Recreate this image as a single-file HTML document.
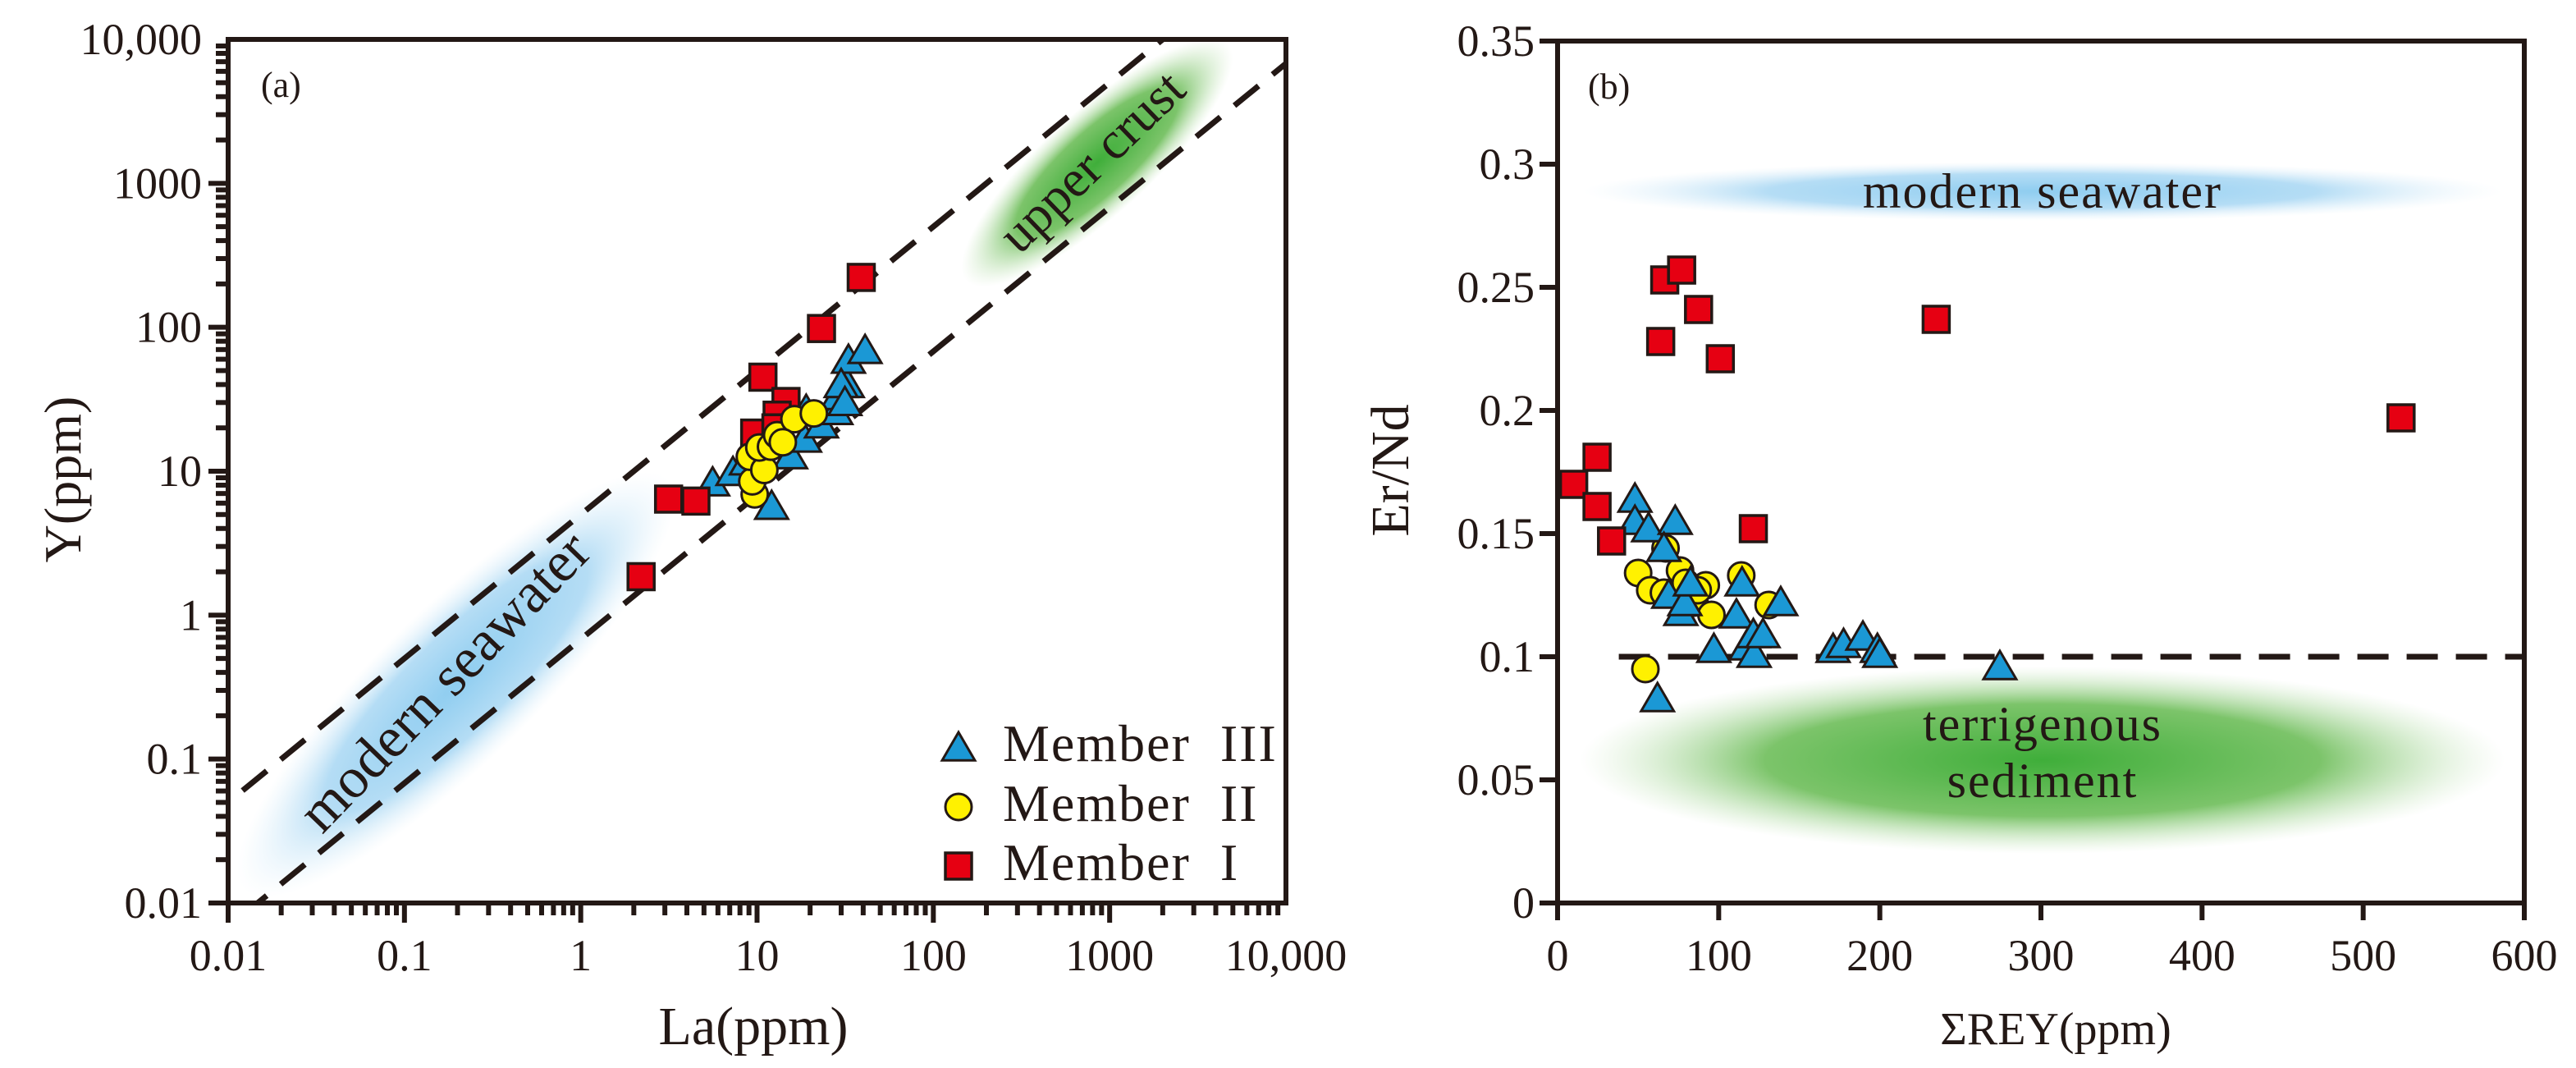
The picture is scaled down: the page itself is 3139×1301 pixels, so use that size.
<!DOCTYPE html>
<html><head><meta charset="utf-8">
<style>
html,body{margin:0;padding:0;background:#fff;}
svg{display:block;}
text{font-family:"Liberation Serif",serif;fill:#231815;}
</style></head>
<body>
<svg id="fig" width="3139" height="1301" viewBox="0 0 3139 1301" xmlns="http://www.w3.org/2000/svg">
<defs>
<radialGradient id="gBlue"><stop offset="0" stop-color="#8fcdf0"/><stop offset="0.6" stop-color="#b5ddf5"/><stop offset="1" stop-color="#e3f2fb" stop-opacity="0"/></radialGradient>
<radialGradient id="gGreen"><stop offset="0" stop-color="#3fae3a"/><stop offset="0.6" stop-color="#7cc46a"/><stop offset="1" stop-color="#c8e6bd" stop-opacity="0"/></radialGradient>
<clipPath id="clipA"><rect x="278" y="48" width="1289" height="1052"/></clipPath>
</defs>
<g id="chartA"></g>
<g id="chartB"></g>
</svg>
<script>
// ---------- Chart (a) data ----------
const aM1La = [2.2, 3.15, 4.5, 10.8, 14.6, 13.0, 9.7, 12.8, 23.2, 39];
const aM1Y  = [1.85, 6.4, 6.2, 45, 30.5, 24.5, 18.4, 20, 98, 222];
const aM3La = [5.6, 7.3, 8.7, 12.1, 15.5, 18.6, 19.0, 23.2, 28, 28.6, 32.5, 33, 41, 30, 31.5];
const aM3Y  = [8.3, 9.8, 11.6, 5.7, 12.8, 16.7, 26.5, 21, 26, 33, 40, 59, 69, 40, 30];
const aM2La = [9.7, 9.4, 9.1, 11, 10.3, 12, 13, 16.3, 21, 14];
const aM2Y  = [6.9, 8.5, 12.6, 10.2, 14.6, 14.8, 17.8, 23.0, 25.2, 15.9];
const aTicks = [0.01, 0.1, 1, 10, 100, 1000, 10000];
const aTickLabels = ["0.01", "0.1", "1", "10", "100", "1000", "10,000"];
const aLineFactors = [5.0, 0.68];

// ---------- Chart (b) data ----------
const bM1X = [10, 24.5, 24.5, 33.5, 64, 66.5, 77, 87.5, 101, 121.5, 235, 523.5];
const bM1Y = [0.170, 0.181, 0.161, 0.147, 0.228, 0.253, 0.257, 0.241, 0.221, 0.152, 0.237, 0.197];
const bM3X = [48, 48, 56.5, 73, 66, 69, 76.5, 79, 82.5, 97, 111, 114.5, 117, 121.5, 122, 127.5, 138.5, 171, 177.5, 189.5, 198.5, 200, 274.5, 62];
const bM3Y = [0.164, 0.155, 0.152, 0.155, 0.144, 0.125, 0.118, 0.122, 0.130, 0.103, 0.117, 0.130, 0.104, 0.109, 0.101, 0.109, 0.122, 0.103, 0.105, 0.108, 0.103, 0.101, 0.096, 0.083];
const bM2X = [50, 57.5, 66, 67, 76, 79.5, 85, 92, 87, 95.5, 114, 131, 54.5];
const bM2Y = [0.134, 0.127, 0.126, 0.144, 0.135, 0.130, 0.122, 0.129, 0.127, 0.117, 0.133, 0.121, 0.095];
const bXTicks = [0, 100, 200, 300, 400, 500, 600];
const bYTicks = [0, 0.05, 0.1, 0.15, 0.2, 0.25, 0.3, 0.35];
const bYTickLabels = ["0", "0.05", "0.1", "0.15", "0.2", "0.25", "0.3", "0.35"];

const NS = "http://www.w3.org/2000/svg";
const INK = "#231815";
function mk(parent, tag, attrs) {
  const e = document.createElementNS(NS, tag);
  for (const k in attrs) e.setAttribute(k, attrs[k]);
  parent.appendChild(e);
  return e;
}
function triangle(g, cx, cy) {
  const s = 19;
  return mk(g, "polygon", {points: `${cx},${cy - s} ${cx - s * 1.05},${cy + s * 0.8} ${cx + s * 1.05},${cy + s * 0.8}`, fill: "#1b98d5", stroke: INK, "stroke-width": 3});
}
function circle(g, cx, cy) {
  return mk(g, "circle", {cx: cx, cy: cy, r: 16, fill: "#fff100", stroke: INK, "stroke-width": 3});
}
function square(g, cx, cy) {
  return mk(g, "rect", {x: cx - 16, y: cy - 16, width: 32, height: 32, fill: "#e60012", stroke: INK, "stroke-width": 3.5});
}

// ===== Chart A =====
const A = document.getElementById("chartA");
const aL = 278, aR = 1567, aT = 48, aB = 1100;
const ax = v => aL + (Math.log10(v) + 2) / 6 * (aR - aL);
const ay = v => aB - (Math.log10(v) + 2) / 6 * (aB - aT);

const sw = mk(A, "ellipse", {cx: 556, cy: 834, rx: 360, ry: 95, fill: "url(#gBlue)", transform: "rotate(-44 556 834)"});


const uc = mk(A, "ellipse", {cx: 1337, cy: 198, rx: 215, ry: 64, fill: "url(#gGreen)", transform: "rotate(-42 1337 198)"});



const clipG = mk(A, "g", {"clip-path": "url(#clipA)"});
aLineFactors.forEach((f, i) => {
  const x1 = 0.001, x2 = 100000;
  const l = mk(clipG, "line", {x1: ax(x1), y1: ay(x1 * f), x2: ax(x2), y2: ay(x2 * f), stroke: INK, "stroke-width": 7, "stroke-dasharray": "38 22"});
  
  
});

let t = mk(A, "text", {x: 0, y: 0, "font-size": 70, "text-anchor": "middle", transform: "translate(558 846) rotate(-46)"});
t.textContent = "modern seawater";


t = mk(A, "text", {x: 0, y: 0, "font-size": 64, "text-anchor": "middle", transform: "translate(1345 212) rotate(-44)"});
t.textContent = "upper crust";



const boxA = mk(A, "rect", {x: aL, y: aT, width: aR - aL, height: aB - aT, fill: "none", stroke: INK, "stroke-width": 6});



for (let d = -2; d < 4; d++) {
  for (let m = 1; m <= 9; m++) {
    const v = m * Math.pow(10, d);
    const len = m === 1 ? 24 : 15;
    const xt = mk(A, "line", {x1: ax(v), y1: aB, x2: ax(v), y2: aB + len, stroke: INK, "stroke-width": 6});
    
    
    const yt = mk(A, "line", {x1: aL, y1: ay(v), x2: aL - len, y2: ay(v), stroke: INK, "stroke-width": 6});
    
    
  }
}
aTicks.forEach((v, i) => {
  const xl = mk(A, "text", {x: ax(v), y: 1182, "font-size": 54, "text-anchor": "middle"});
  xl.textContent = aTickLabels[i];
  
  
  const yl = mk(A, "text", {x: 246, y: ay(v) + 18, "font-size": 54, "text-anchor": "end"});
  yl.textContent = aTickLabels[i];
  
  
});
t = mk(A, "text", {x: 918, y: 1272, "font-size": 66, "text-anchor": "middle"});
t.textContent = "La(ppm)";


t = mk(A, "text", {x: 0, y: 0, "font-size": 64, "text-anchor": "middle", transform: "translate(98 584) rotate(-90)"});
t.textContent = "Y(ppm)";


t = mk(A, "text", {x: 318, y: 118, "font-size": 44});
t.textContent = "(a)";



aM3La.forEach((v, i) => {
  const p = triangle(A, ax(v), ay(aM3Y[i]));
  
  
});
aM1La.forEach((v, i) => {
  const p = square(A, ax(v), ay(aM1Y[i]));
  
  
});
aM2La.forEach((v, i) => {
  const p = circle(A, ax(v), ay(aM2Y[i]));
  
  
});

const lg = mk(A, "g", {});


let lm = triangle(lg, 1168, 911);


lm = circle(lg, 1168, 983);


lm = square(lg, 1168, 1055);


[["Member  III", 927], ["Member  II", 1000], ["Member  I", 1072]].forEach((r, i) => {
  const lt = mk(lg, "text", {x: 1222, y: r[1], "font-size": 64, "xml:space": "preserve", style: "white-space:pre", "letter-spacing": 2});
  lt.textContent = r[0];
  
  
});

// ===== Chart B =====
const B = document.getElementById("chartB");
const bL = 1898, bR = 3076, bT = 50, bB = 1100;
const bx = v => bL + v / 600 * (bR - bL);
const by = v => bB - v / 0.35 * (bB - bT);

let e = mk(B, "ellipse", {cx: bx(301), cy: by(0.289), rx: bx(285) - bx(0), ry: by(0) - by(0.012), fill: "url(#gBlue)"});


e = mk(B, "ellipse", {cx: bx(301), cy: by(0.058), rx: bx(287) - bx(0), ry: by(0) - by(0.038), fill: "url(#gGreen)"});



t = mk(B, "text", {x: bx(301), y: by(0.289) + 20, "font-size": 60, "text-anchor": "middle", "letter-spacing": 2});
t.textContent = "modern seawater";


t = mk(B, "text", {x: bx(301), y: by(0.066), "font-size": 60, "text-anchor": "middle", "letter-spacing": 2});
t.textContent = "terrigenous";


t = mk(B, "text", {x: bx(301), y: by(0.043), "font-size": 60, "text-anchor": "middle", "letter-spacing": 2});
t.textContent = "sediment";



const dl = mk(B, "line", {x1: bx(38), y1: by(0.1), x2: bR, y2: by(0.1), stroke: INK, "stroke-width": 7, "stroke-dasharray": "38 22"});



const boxB = mk(B, "rect", {x: bL, y: bT, width: bR - bL, height: bB - bT, fill: "none", stroke: INK, "stroke-width": 6});



bXTicks.forEach(v => {
  const tk = mk(B, "line", {x1: bx(v), y1: bB, x2: bx(v), y2: bB + 21, stroke: INK, "stroke-width": 6});
  
  
  const tl = mk(B, "text", {x: bx(v), y: 1182, "font-size": 54, "text-anchor": "middle"});
  tl.textContent = String(v);
  
  
});
bYTicks.forEach((v, i) => {
  const tk = mk(B, "line", {x1: bL, y1: by(v), x2: bL - 22, y2: by(v), stroke: INK, "stroke-width": 6});
  
  
  const tl = mk(B, "text", {x: 1870, y: by(v) + 18, "font-size": 54, "text-anchor": "end"});
  tl.textContent = bYTickLabels[i];
  
  
});
t = mk(B, "text", {x: 2505, y: 1272, "font-size": 56, "text-anchor": "middle"});
t.textContent = "\u03A3REY(ppm)";


t = mk(B, "text", {x: 0, y: 0, "font-size": 66, "text-anchor": "middle", transform: "translate(1716 573) rotate(-90)"});
t.textContent = "Er/Nd";


t = mk(B, "text", {x: 1935, y: 120, "font-size": 44});
t.textContent = "(b)";



bM2X.forEach((v, i) => {
  const p = circle(B, bx(v), by(bM2Y[i]));
  
  
});
bM3X.forEach((v, i) => {
  const p = triangle(B, bx(v), by(bM3Y[i]));
  
  
});
bM1X.forEach((v, i) => {
  const p = square(B, bx(v), by(bM1Y[i]));
  
  
});
</script>
</body></html>
